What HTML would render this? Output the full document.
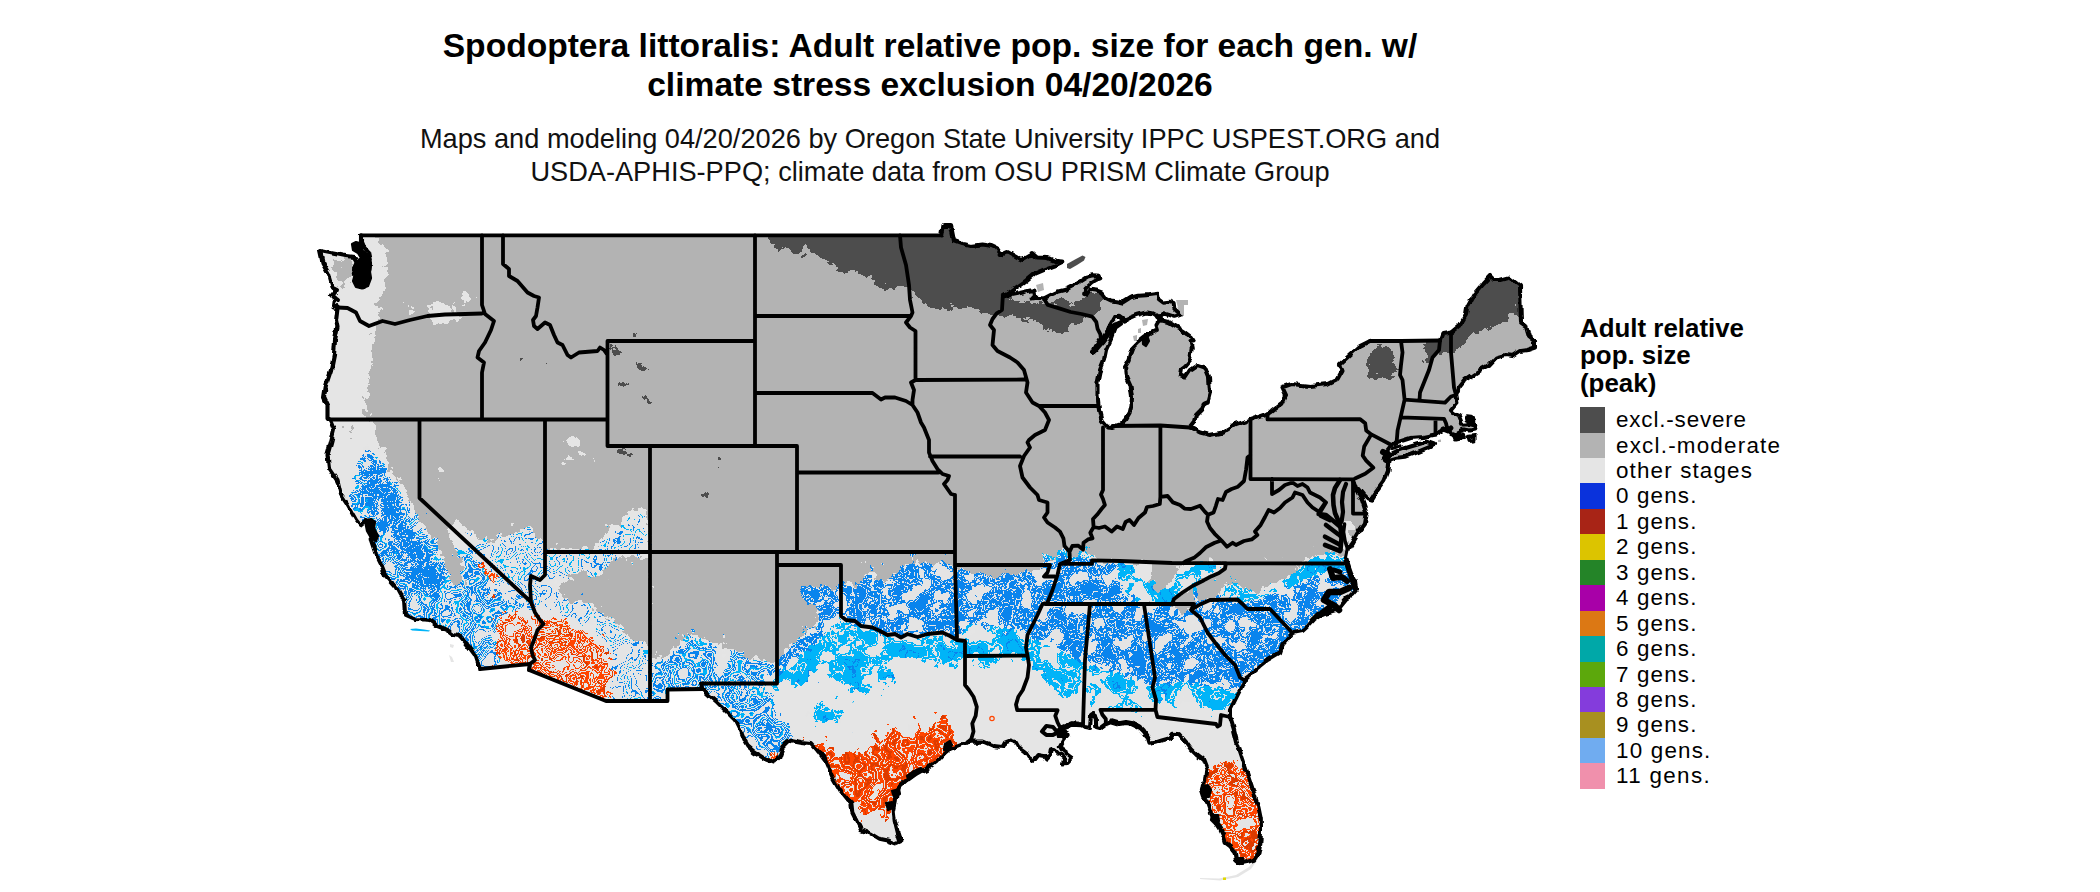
<!DOCTYPE html>
<html><head><meta charset="utf-8"><title>Spodoptera littoralis</title>
<style>
html,body{margin:0;padding:0;background:#fff}
body{width:2100px;height:892px;position:relative;overflow:hidden;font-family:"Liberation Sans",sans-serif;color:#000}
.t{position:absolute;left:0;width:1860px;text-align:center;white-space:nowrap}
.title{font-weight:bold;font-size:33.6px;line-height:39.6px;top:25.5px}
.sub{font-size:27.2px;line-height:33px;top:122px;color:#111}
.lt{position:absolute;left:1580px;top:315.2px;font-weight:bold;font-size:25.9px;line-height:27.3px;white-space:nowrap}
.sw{position:absolute;left:1580px;width:24.8px;height:25.5px}
.lb{position:absolute;left:1616px;height:25.44px;line-height:26.5px;font-size:22.4px;letter-spacing:0.95px;white-space:nowrap}
</style></head><body>
<div class="t title">Spodoptera littoralis: Adult relative pop. size for each gen. w/<br>climate stress exclusion 04/20/2026</div>
<div class="t sub">Maps and modeling 04/20/2026 by Oregon State University IPPC USPEST.ORG and<br>USDA-APHIS-PPQ; climate data from OSU PRISM Climate Group</div>
<svg width="2100" height="892" viewBox="0 0 2100 892" style="position:absolute;left:0;top:0">
<defs><filter id="rOTH" filterUnits="userSpaceOnUse" x="300" y="215" width="1270" height="677" color-interpolation-filters="sRGB"><feGaussianBlur in="SourceAlpha" stdDeviation="3.5" result="b"/>
<feMorphology in="SourceAlpha" operator="dilate" radius="5" result="dl"/>
<feMorphology in="SourceAlpha" operator="erode" radius="6" result="er"/>
<feTurbulence type="fractalNoise" baseFrequency="0.13" numOctaves="4" seed="3" result="n"/>
<feColorMatrix in="n" type="matrix" values="0 0 0 0 0 0 0 0 0 0 0 0 0 0 0 1 0 0 0 0" result="na"/>
<feComposite in="b" in2="na" operator="arithmetic" k1="0" k2="1" k3="1.5" k4="-0.75" result="s"/>
<feComponentTransfer in="s" result="M0"><feFuncA type="discrete" tableValues="0 1"/></feComponentTransfer>
<feComposite in="M0" in2="dl" operator="in" result="M1"/>
<feComposite in="er" in2="M1" operator="over" result="M"/>
<feFlood flood-color="#e5e5e5" result="c"/><feComposite in="c" in2="M" operator="in"/></filter><filter id="rMOD" filterUnits="userSpaceOnUse" x="300" y="215" width="1270" height="677" color-interpolation-filters="sRGB"><feGaussianBlur in="SourceAlpha" stdDeviation="3.5" result="b"/>
<feMorphology in="SourceAlpha" operator="dilate" radius="5" result="dl"/>
<feMorphology in="SourceAlpha" operator="erode" radius="6" result="er"/>
<feTurbulence type="fractalNoise" baseFrequency="0.13" numOctaves="4" seed="11" result="n"/>
<feColorMatrix in="n" type="matrix" values="0 0 0 0 0 0 0 0 0 0 0 0 0 0 0 1 0 0 0 0" result="na"/>
<feComposite in="b" in2="na" operator="arithmetic" k1="0" k2="1" k3="1.5" k4="-0.75" result="s"/>
<feComponentTransfer in="s" result="M0"><feFuncA type="discrete" tableValues="0 1"/></feComponentTransfer>
<feComposite in="M0" in2="dl" operator="in" result="M1"/>
<feComposite in="er" in2="M1" operator="over" result="M"/>
<feFlood flood-color="#b3b3b3" result="c"/><feComposite in="c" in2="M" operator="in"/></filter><filter id="rSEV" filterUnits="userSpaceOnUse" x="300" y="215" width="1270" height="677" color-interpolation-filters="sRGB"><feGaussianBlur in="SourceAlpha" stdDeviation="3.2" result="b"/>
<feMorphology in="SourceAlpha" operator="dilate" radius="7" result="dl"/>
<feMorphology in="SourceAlpha" operator="erode" radius="8" result="er"/>
<feTurbulence type="fractalNoise" baseFrequency="0.12" numOctaves="4" seed="21" result="n"/>
<feColorMatrix in="n" type="matrix" values="0 0 0 0 0 0 0 0 0 0 0 0 0 0 0 1 0 0 0 0" result="na"/>
<feComposite in="b" in2="na" operator="arithmetic" k1="0" k2="1" k3="1.5" k4="-0.75" result="s"/>
<feComponentTransfer in="s" result="M0"><feFuncA type="discrete" tableValues="0 1"/></feComponentTransfer>
<feComposite in="M0" in2="dl" operator="in" result="M1"/>
<feComposite in="er" in2="M1" operator="over" result="M"/>
<feFlood flood-color="#4d4d4d" result="c"/><feComposite in="c" in2="M" operator="in"/></filter><filter id="tBlue" filterUnits="userSpaceOnUse" x="300" y="215" width="1270" height="677" color-interpolation-filters="sRGB"><feGaussianBlur in="SourceAlpha" stdDeviation="5" result="b"/>
<feMorphology in="SourceAlpha" operator="dilate" radius="9" result="dl"/>
<feMorphology in="SourceAlpha" operator="erode" radius="10" result="er"/>
<feTurbulence type="fractalNoise" baseFrequency="0.1" numOctaves="4" seed="9" result="n"/>
<feColorMatrix in="n" type="matrix" values="0 0 0 0 0 0 0 0 0 0 0 0 0 0 0 1 0 0 0 0" result="na"/>
<feComposite in="b" in2="na" operator="arithmetic" k1="0" k2="1" k3="1.7" k4="-0.85" result="s"/>
<feComponentTransfer in="s" result="M0"><feFuncA type="discrete" tableValues="0 1"/></feComponentTransfer>
<feComposite in="M0" in2="dl" operator="in" result="M1"/>
<feComposite in="er" in2="M1" operator="over" result="M"/>
<feTurbulence type="fractalNoise" baseFrequency="0.06" numOctaves="4" seed="4" result="t"/>
<feColorMatrix in="t" type="matrix" values="2.000 0 0 0 -0.500 2.000 0 0 0 -0.500 2.000 0 0 0 -0.500 0 0 0 0 1"/>
<feComponentTransfer result="T"><feFuncR type="discrete" tableValues="0.898 0.898 0.898 0.898 0.898 0.039 0.039 0.898 0.039 0.039 0.039 0.898 0.039 0.039 0.039 0.039"/><feFuncG type="discrete" tableValues="0.898 0.898 0.898 0.898 0.898 0.518 0.518 0.898 0.518 0.518 0.518 0.898 0.518 0.518 0.518 0.518"/><feFuncB type="discrete" tableValues="0.898 0.898 0.898 0.898 0.898 0.933 0.933 0.898 0.933 0.933 0.933 0.898 0.933 0.933 0.933 0.933"/></feComponentTransfer>
<feComposite in="T" in2="M" operator="in"/></filter><filter id="tCyan" filterUnits="userSpaceOnUse" x="300" y="215" width="1270" height="677" color-interpolation-filters="sRGB"><feGaussianBlur in="SourceAlpha" stdDeviation="5" result="b"/>
<feMorphology in="SourceAlpha" operator="dilate" radius="9" result="dl"/>
<feMorphology in="SourceAlpha" operator="erode" radius="10" result="er"/>
<feTurbulence type="fractalNoise" baseFrequency="0.1" numOctaves="4" seed="9" result="n"/>
<feColorMatrix in="n" type="matrix" values="0 0 0 0 0 0 0 0 0 0 0 0 0 0 0 1 0 0 0 0" result="na"/>
<feComposite in="b" in2="na" operator="arithmetic" k1="0" k2="1" k3="1.7" k4="-0.85" result="s"/>
<feComponentTransfer in="s" result="M0"><feFuncA type="discrete" tableValues="0 1"/></feComponentTransfer>
<feComposite in="M0" in2="dl" operator="in" result="M1"/>
<feComposite in="er" in2="M1" operator="over" result="M"/>
<feTurbulence type="fractalNoise" baseFrequency="0.045" numOctaves="4" seed="8" result="t"/>
<feColorMatrix in="t" type="matrix" values="2.000 0 0 0 -0.500 2.000 0 0 0 -0.500 2.000 0 0 0 -0.500 0 0 0 0 1"/>
<feComponentTransfer result="T"><feFuncR type="discrete" tableValues="0.898 0.898 0.898 0.898 0.898 0.000 0.000 0.898 0.000 0.000 0.000 0.000 0.000 0.039 0.000 0.000"/><feFuncG type="discrete" tableValues="0.898 0.898 0.898 0.898 0.898 0.706 0.706 0.898 0.706 0.706 0.706 0.706 0.706 0.518 0.706 0.706"/><feFuncB type="discrete" tableValues="0.898 0.898 0.898 0.898 0.898 0.973 0.973 0.898 0.973 0.973 0.973 0.973 0.973 0.933 0.973 0.973"/></feComponentTransfer>
<feComposite in="T" in2="M" operator="in"/></filter><filter id="tLineD" filterUnits="userSpaceOnUse" x="300" y="215" width="1270" height="677" color-interpolation-filters="sRGB"><feGaussianBlur in="SourceAlpha" stdDeviation="5" result="b"/>
<feMorphology in="SourceAlpha" operator="dilate" radius="9" result="dl"/>
<feMorphology in="SourceAlpha" operator="erode" radius="10" result="er"/>
<feTurbulence type="fractalNoise" baseFrequency="0.1" numOctaves="4" seed="9" result="n"/>
<feColorMatrix in="n" type="matrix" values="0 0 0 0 0 0 0 0 0 0 0 0 0 0 0 1 0 0 0 0" result="na"/>
<feComposite in="b" in2="na" operator="arithmetic" k1="0" k2="1" k3="1.7" k4="-0.85" result="s"/>
<feComponentTransfer in="s" result="M0"><feFuncA type="discrete" tableValues="0 1"/></feComponentTransfer>
<feComposite in="M0" in2="dl" operator="in" result="M1"/>
<feComposite in="er" in2="M1" operator="over" result="M"/>
<feTurbulence type="fractalNoise" baseFrequency="0.03" numOctaves="3" seed="12" result="t"/>
<feColorMatrix in="t" type="matrix" values="2.083 0 0 0 -0.542 2.083 0 0 0 -0.542 2.083 0 0 0 -0.542 0 0 0 0 1"/>
<feComponentTransfer result="T"><feFuncR type="discrete" tableValues="0.898 0.898 0.898 0.039 0.898 0.898 0.039 0.000 0.898 0.898 0.039 0.039 0.898 0.039 0.039 0.898 0.898 0.000 0.039 0.898 0.039 0.039 0.898 0.039 0.898 0.898 0.000 0.000 0.898 0.898 0.039 0.898 0.898 0.039 0.039 0.898"/><feFuncG type="discrete" tableValues="0.898 0.898 0.898 0.518 0.898 0.898 0.518 0.706 0.898 0.898 0.518 0.518 0.898 0.518 0.518 0.898 0.898 0.706 0.518 0.898 0.518 0.518 0.898 0.518 0.898 0.898 0.706 0.706 0.898 0.898 0.518 0.898 0.898 0.518 0.518 0.898"/><feFuncB type="discrete" tableValues="0.898 0.898 0.898 0.933 0.898 0.898 0.933 0.973 0.898 0.898 0.933 0.933 0.898 0.933 0.933 0.898 0.898 0.973 0.933 0.898 0.933 0.933 0.898 0.933 0.898 0.898 0.973 0.973 0.898 0.898 0.933 0.898 0.898 0.933 0.933 0.898"/></feComponentTransfer>
<feComposite in="T" in2="M" operator="in"/></filter><filter id="tLineS" filterUnits="userSpaceOnUse" x="300" y="215" width="1270" height="677" color-interpolation-filters="sRGB"><feGaussianBlur in="SourceAlpha" stdDeviation="5" result="b"/>
<feMorphology in="SourceAlpha" operator="dilate" radius="9" result="dl"/>
<feMorphology in="SourceAlpha" operator="erode" radius="10" result="er"/>
<feTurbulence type="fractalNoise" baseFrequency="0.1" numOctaves="4" seed="9" result="n"/>
<feColorMatrix in="n" type="matrix" values="0 0 0 0 0 0 0 0 0 0 0 0 0 0 0 1 0 0 0 0" result="na"/>
<feComposite in="b" in2="na" operator="arithmetic" k1="0" k2="1" k3="1.7" k4="-0.85" result="s"/>
<feComponentTransfer in="s" result="M0"><feFuncA type="discrete" tableValues="0 1"/></feComponentTransfer>
<feComposite in="M0" in2="dl" operator="in" result="M1"/>
<feComposite in="er" in2="M1" operator="over" result="M"/>
<feTurbulence type="fractalNoise" baseFrequency="0.03" numOctaves="3" seed="13" result="t"/>
<feColorMatrix in="t" type="matrix" values="2.083 0 0 0 -0.542 2.083 0 0 0 -0.542 2.083 0 0 0 -0.542 0 0 0 0 1"/>
<feComponentTransfer result="T"><feFuncR type="discrete" tableValues="0.898 0.898 0.898 0.039 0.898 0.898 0.898 0.898 0.898 0.898 0.039 0.898 0.898 0.898 0.000 0.898 0.898 0.898 0.039 0.898 0.898 0.898 0.898 0.000 0.898 0.898 0.898 0.898 0.039 0.898 0.898 0.898 0.898 0.039 0.898 0.898"/><feFuncG type="discrete" tableValues="0.898 0.898 0.898 0.518 0.898 0.898 0.898 0.898 0.898 0.898 0.518 0.898 0.898 0.898 0.706 0.898 0.898 0.898 0.518 0.898 0.898 0.898 0.898 0.706 0.898 0.898 0.898 0.898 0.518 0.898 0.898 0.898 0.898 0.518 0.898 0.898"/><feFuncB type="discrete" tableValues="0.898 0.898 0.898 0.933 0.898 0.898 0.898 0.898 0.898 0.898 0.933 0.898 0.898 0.898 0.973 0.898 0.898 0.898 0.933 0.898 0.898 0.898 0.898 0.973 0.898 0.898 0.898 0.898 0.933 0.898 0.898 0.898 0.898 0.933 0.898 0.898"/></feComponentTransfer>
<feComposite in="T" in2="M" operator="in"/></filter><filter id="tOrange" filterUnits="userSpaceOnUse" x="300" y="215" width="1270" height="677" color-interpolation-filters="sRGB"><feGaussianBlur in="SourceAlpha" stdDeviation="5" result="b"/>
<feMorphology in="SourceAlpha" operator="dilate" radius="9" result="dl"/>
<feMorphology in="SourceAlpha" operator="erode" radius="10" result="er"/>
<feTurbulence type="fractalNoise" baseFrequency="0.1" numOctaves="4" seed="9" result="n"/>
<feColorMatrix in="n" type="matrix" values="0 0 0 0 0 0 0 0 0 0 0 0 0 0 0 1 0 0 0 0" result="na"/>
<feComposite in="b" in2="na" operator="arithmetic" k1="0" k2="1" k3="1.7" k4="-0.85" result="s"/>
<feComponentTransfer in="s" result="M0"><feFuncA type="discrete" tableValues="0 1"/></feComponentTransfer>
<feComposite in="M0" in2="dl" operator="in" result="M1"/>
<feComposite in="er" in2="M1" operator="over" result="M"/>
<feTurbulence type="fractalNoise" baseFrequency="0.038" numOctaves="3" seed="16" result="t"/>
<feColorMatrix in="t" type="matrix" values="2.083 0 0 0 -0.542 2.083 0 0 0 -0.542 2.083 0 0 0 -0.542 0 0 0 0 1"/>
<feComponentTransfer result="T"><feFuncR type="discrete" tableValues="0.898 0.898 1.000 1.000 0.898 1.000 0.863 0.863 1.000 0.898 1.000 1.000 0.863 1.000 0.898 1.000 1.000 0.863 0.863 1.000 0.898 1.000 1.000 0.898"/><feFuncG type="discrete" tableValues="0.898 0.898 0.271 0.271 0.898 0.271 0.235 0.235 0.271 0.898 0.271 0.271 0.235 0.271 0.898 0.271 0.271 0.235 0.235 0.271 0.898 0.271 0.271 0.898"/><feFuncB type="discrete" tableValues="0.898 0.898 0.000 0.000 0.898 0.000 0.000 0.000 0.000 0.898 0.000 0.000 0.000 0.000 0.898 0.000 0.000 0.000 0.000 0.000 0.898 0.000 0.000 0.898"/></feComponentTransfer>
<feComposite in="T" in2="M" operator="in"/></filter><filter id="tOrangeM" filterUnits="userSpaceOnUse" x="300" y="215" width="1270" height="677" color-interpolation-filters="sRGB"><feGaussianBlur in="SourceAlpha" stdDeviation="5" result="b"/>
<feMorphology in="SourceAlpha" operator="dilate" radius="9" result="dl"/>
<feMorphology in="SourceAlpha" operator="erode" radius="10" result="er"/>
<feTurbulence type="fractalNoise" baseFrequency="0.1" numOctaves="4" seed="9" result="n"/>
<feColorMatrix in="n" type="matrix" values="0 0 0 0 0 0 0 0 0 0 0 0 0 0 0 1 0 0 0 0" result="na"/>
<feComposite in="b" in2="na" operator="arithmetic" k1="0" k2="1" k3="1.7" k4="-0.85" result="s"/>
<feComponentTransfer in="s" result="M0"><feFuncA type="discrete" tableValues="0 1"/></feComponentTransfer>
<feComposite in="M0" in2="dl" operator="in" result="M1"/>
<feComposite in="er" in2="M1" operator="over" result="M"/>
<feTurbulence type="fractalNoise" baseFrequency="0.038" numOctaves="3" seed="18" result="t"/>
<feColorMatrix in="t" type="matrix" values="2.083 0 0 0 -0.542 2.083 0 0 0 -0.542 2.083 0 0 0 -0.542 0 0 0 0 1"/>
<feComponentTransfer result="T"><feFuncR type="discrete" tableValues="0.898 0.898 1.000 0.898 0.898 1.000 0.863 0.863 1.000 0.898 1.000 1.000 0.898 1.000 0.898 1.000 0.863 0.863 0.898 1.000 0.898 1.000 1.000 0.898"/><feFuncG type="discrete" tableValues="0.898 0.898 0.271 0.898 0.898 0.271 0.235 0.235 0.271 0.898 0.271 0.271 0.898 0.271 0.898 0.271 0.235 0.235 0.898 0.271 0.898 0.271 0.271 0.898"/><feFuncB type="discrete" tableValues="0.898 0.898 0.000 0.898 0.898 0.000 0.000 0.000 0.000 0.898 0.000 0.000 0.898 0.000 0.898 0.000 0.000 0.000 0.898 0.000 0.898 0.000 0.000 0.898"/></feComponentTransfer>
<feComposite in="T" in2="M" operator="in"/></filter><filter id="tOrangeS" filterUnits="userSpaceOnUse" x="300" y="215" width="1270" height="677" color-interpolation-filters="sRGB"><feGaussianBlur in="SourceAlpha" stdDeviation="5" result="b"/>
<feMorphology in="SourceAlpha" operator="dilate" radius="9" result="dl"/>
<feMorphology in="SourceAlpha" operator="erode" radius="10" result="er"/>
<feTurbulence type="fractalNoise" baseFrequency="0.1" numOctaves="4" seed="9" result="n"/>
<feColorMatrix in="n" type="matrix" values="0 0 0 0 0 0 0 0 0 0 0 0 0 0 0 1 0 0 0 0" result="na"/>
<feComposite in="b" in2="na" operator="arithmetic" k1="0" k2="1" k3="1.7" k4="-0.85" result="s"/>
<feComponentTransfer in="s" result="M0"><feFuncA type="discrete" tableValues="0 1"/></feComponentTransfer>
<feComposite in="M0" in2="dl" operator="in" result="M1"/>
<feComposite in="er" in2="M1" operator="over" result="M"/>
<feTurbulence type="fractalNoise" baseFrequency="0.04" numOctaves="3" seed="17" result="t"/>
<feColorMatrix in="t" type="matrix" values="2.083 0 0 0 -0.542 2.083 0 0 0 -0.542 2.083 0 0 0 -0.542 0 0 0 0 1"/>
<feComponentTransfer result="T"><feFuncR type="discrete" tableValues="0.898 0.898 1.000 0.898 0.898 1.000 0.863 0.898 1.000 0.898 1.000 1.000 0.898 1.000 0.898 1.000 0.863 0.898 0.898 1.000 0.898 0.898 1.000 0.898"/><feFuncG type="discrete" tableValues="0.898 0.898 0.271 0.898 0.898 0.271 0.235 0.898 0.271 0.898 0.271 0.271 0.898 0.271 0.898 0.271 0.235 0.898 0.898 0.271 0.898 0.898 0.271 0.898"/><feFuncB type="discrete" tableValues="0.898 0.898 0.000 0.898 0.898 0.000 0.000 0.898 0.000 0.898 0.000 0.000 0.898 0.000 0.898 0.000 0.000 0.898 0.898 0.000 0.898 0.898 0.000 0.898"/></feComponentTransfer>
<feComposite in="T" in2="M" operator="in"/></filter><filter id="tSolid" filterUnits="userSpaceOnUse" x="300" y="215" width="1270" height="677" color-interpolation-filters="sRGB"><feGaussianBlur in="SourceAlpha" stdDeviation="4" result="b"/>
<feMorphology in="SourceAlpha" operator="dilate" radius="8" result="dl"/>
<feMorphology in="SourceAlpha" operator="erode" radius="9" result="er"/>
<feTurbulence type="fractalNoise" baseFrequency="0.1" numOctaves="4" seed="9" result="n"/>
<feColorMatrix in="n" type="matrix" values="0 0 0 0 0 0 0 0 0 0 0 0 0 0 0 1 0 0 0 0" result="na"/>
<feComposite in="b" in2="na" operator="arithmetic" k1="0" k2="1" k3="1.6" k4="-0.8" result="s"/>
<feComponentTransfer in="s" result="M0"><feFuncA type="discrete" tableValues="0 1"/></feComponentTransfer>
<feComposite in="M0" in2="dl" operator="in" result="M1"/>
<feComposite in="er" in2="M1" operator="over" result="M"/>
<feTurbulence type="fractalNoise" baseFrequency="0.07" numOctaves="4" seed="20" result="t"/>
<feColorMatrix in="t" type="matrix" values="2.000 0 0 0 -0.500 2.000 0 0 0 -0.500 2.000 0 0 0 -0.500 0 0 0 0 1"/>
<feComponentTransfer result="T"><feFuncR type="discrete" tableValues="0.898 0.039 0.898 0.039 0.039 0.898 0.039 0.039 0.039 0.039 0.039 0.898 0.039 0.039 0.039 0.039"/><feFuncG type="discrete" tableValues="0.898 0.518 0.898 0.518 0.518 0.898 0.518 0.518 0.518 0.518 0.518 0.898 0.518 0.518 0.518 0.518"/><feFuncB type="discrete" tableValues="0.898 0.933 0.898 0.933 0.933 0.898 0.933 0.933 0.933 0.933 0.933 0.898 0.933 0.933 0.933 0.933"/></feComponentTransfer>
<feComposite in="T" in2="M" operator="in"/></filter></defs>
<clipPath id="land"><path d="M361 235.4 L941 235.4 L942.5 226 L951 226 L954 241 L962.5 244 L971 246 L982.5 244.5 L992.5 246 L996.7 248 L1001.4 254.8 L1007.5 252 L1017 257.5 L1022.3 260 L1033 254 L1037 257.5 L1047.8 258 L1054.6 260.9 L1063.3 261.5 L1054.6 265.6 L1043.8 269.6 L1034.4 273.6 L1026.3 280.4 L1017 287 L1007.5 293.8 L1002.8 296.5 L1010 295 L1019.6 293 L1030.4 290.5 L1034.4 290.5 L1035 295 L1031.7 298.5 L1037 297.8 L1043.8 298.5 L1050.5 295 L1057.3 291.8 L1065.3 289.8 L1073.4 285.7 L1081.5 280.4 L1086.9 277 L1093.6 275.2 L1099.6 275.7 L1100.3 278.3 L1096.3 279.7 L1090.9 283 L1085.5 287.8 L1084.2 293 L1086.9 293.8 L1089.6 289.8 L1096.3 290.5 L1101.7 292.5 L1105.7 297.8 L1111 300.5 L1116.5 301.2 L1122.5 302.6 L1130 297.8 L1138 295.8 L1148.8 295 L1158 293.8 L1158.8 299 L1163.5 302.6 L1170.3 301.9 L1173.6 303 L1174.3 308.6 L1178.4 312.6 L1180.4 314.7 L1174.3 316.7 L1163.5 313.3 L1159.5 317 L1152.8 313.3 L1146 312.6 L1138 314.7 L1130 318 L1124.5 320.7 L1119 316.7 L1114.4 317.4 L1111 323.4 L1107 331.5 L1103 338.2 L1101 338.2 L1096 346 L1092.5 353 L1096 350 L1102 343 L1108 335 L1115 329 L1112 337 L1106 350 L1104 360 L1100 370 L1097.5 382.5 L1097.5 395 L1099 410 L1101.5 421 L1107 427.5 L1113 428 L1120 425.5 L1126 420 L1129.5 414 L1131.5 405 L1132 397 L1130.5 386 L1126 376 L1125 366 L1128.6 360 L1130 354.4 L1132.6 347.6 L1138 342.2 L1144.7 336.9 L1151.4 332.8 L1156.8 330 L1155.5 326 L1159.5 319.4 L1169 322 L1178.4 327.4 L1186.4 332.8 L1191.8 336.9 L1193.8 340.2 L1190.5 340.9 L1191.8 347.6 L1190 360 L1185 366 L1181 369 L1180 375 L1185 377.5 L1190 370 L1197.5 365 L1205 367.5 L1209 377.5 L1210 392.5 L1207.5 402.5 L1204 404 L1201 410 L1196 415 L1194 422.5 L1190 427.5 L1200 432.5 L1210 435 L1222.5 432.5 L1235 425 L1250 420 L1267.5 414 L1282.5 402.5 L1286 395 L1282.5 387.5 L1292.5 384 L1310 386 L1327.5 384 L1337.5 379 L1342.5 370 L1340 364 L1350 355 L1360 346 L1370 341 L1401 341 L1440 340.5 L1442.5 334 L1451 332.5 L1460 325 L1466 315 L1467.5 306 L1474 294 L1482.5 284 L1490 276 L1494 280 L1500 280 L1509 277.5 L1520 286 L1521 322.5 L1526 326 L1529 336 L1535 341 L1535 347.5 L1527.5 350 L1520 351 L1512.5 356 L1505 355 L1496 357.5 L1489 365 L1480 370 L1474 374 L1465 380 L1459 387.5 L1456 395 L1457.5 402.5 L1451 410.2 L1454 413.2 L1459 415.2 L1461 420.3 L1462 424.8 L1470.2 424.3 L1474.2 425.3 L1474.2 421.3 L1471.2 417.7 L1467 417.2 L1467.5 419.5 L1471 421 L1472 423.5 L1475.2 425.3 L1474.2 429.4 L1470 430.4 L1465 429.4 L1461 430.4 L1457 432.4 L1454 434.4 L1450 433 L1447 427.4 L1442 430.4 L1435 434.4 L1422.8 437 L1410.7 438 L1396.6 442.5 L1391.5 445 L1386 452 L1383 458 L1389.5 460.7 L1388.4 470.8 L1384.4 481 L1376 492.4 L1371 500.6 L1367.7 499.5 L1363 494.7 L1357 487.7 L1353.6 480.6 L1357 490 L1362 500 L1366.5 513.6 L1365 523 L1358 532.4 L1352.4 541.8 L1347.7 549 L1346 557 L1347.7 563 L1351 572.4 L1356 582 L1357 589 L1351 596 L1346.5 598.3 L1340.6 605.4 L1334.7 610 L1323 613.6 L1313.5 620 L1308 626 L1302.5 631 L1292.5 633 L1282.5 645 L1280 652.5 L1267.5 660 L1255 670 L1247.5 677.5 L1244 680 L1240 690 L1235 700 L1230 710 L1230 717 L1233.6 728.5 L1237 742 L1241.5 755.7 L1246 769 L1250.6 783 L1255 796.4 L1258.5 807.7 L1260.8 819 L1261 830.4 L1260.3 844 L1258.5 853 L1254 859.8 L1247 862 L1240.4 863.2 L1235.8 858.7 L1234.7 851.9 L1230 846 L1225.7 842.8 L1223.4 835 L1220 828 L1215.5 821.3 L1211 813.4 L1207.5 803 L1204 796.4 L1201.9 789.6 L1205 780.6 L1206.4 769 L1203 760 L1197.4 755.7 L1190.6 749 L1185 741 L1179 734 L1173 733.7 L1169.7 738.2 L1161.8 740.5 L1155 742.7 L1149.5 743.8 L1147.3 737 L1143.9 731.5 L1139.4 727 L1132.7 723.6 L1126 722.5 L1119 723.6 L1111.4 721.4 L1105.8 723.6 L1100 728 L1096.2 727 L1095.7 718 L1093.4 714 L1091 715.8 L1090 728 L1084.5 727 L1081 724.8 L1072 724.2 L1064.3 727 L1061 732.6 L1061 734.9 L1066.5 732 L1067.6 734.9 L1063 740.5 L1059.8 746 L1063 751.7 L1067.6 755 L1072 758.4 L1067.6 762.9 L1063 763.4 L1064.3 758.4 L1058.7 754 L1055.3 750.5 L1050.8 749.4 L1049.7 756 L1046.3 759.5 L1044 756 L1038.5 755 L1034 760.6 L1029.5 757.3 L1026 751.7 L1019.4 747 L1017 742.7 L1010.5 740.5 L1004.9 742.7 L1002.6 747 L993.6 746 L983.5 741.6 L972 741.5 L965 743 L957.3 746 L949.6 749 L944 753.7 L936 762.4 L926.5 769 L915 774 L907 779.8 L899.5 786.5 L896.6 793 L895.7 801 L893.7 810.6 L894.7 820 L897.6 831.8 L900.5 841.4 L895.7 843.4 L888 840.5 L878.3 838.6 L870.6 833.7 L861 830 L856 820 L852.3 812.5 L851.3 803 L847.5 799 L839.8 789.4 L832 776 L826.3 762.4 L818.6 751.8 L810.8 743 L801 742 L791.6 740.2 L787.5 742.5 L782.5 747.5 L779 757.5 L774 762.5 L765 759 L755 752.5 L747.5 746 L744 740 L740 730 L735 720 L727.5 712.5 L717.5 702.5 L709 695 L702.5 689 L667.5 689.5 L667.5 701 L650 701 L606 701 L529 670 L530 664 L480 669 L477.5 662.5 L475 655 L467.5 645 L460 636 L454 635 L447.5 630 L437.5 626 L430 620 L415 619 L406 615 L405 600 L400 595 L396 587.5 L385 575 L381 565 L376 555 L371 540 L369 529 L372 522 L366 520 L360 525 L356 520 L347.5 505 L341 495 L337.5 480 L329 467.5 L327.5 455 L331 442.5 L334 430 L330 420 L327.5 417.5 L327.5 405 L324 397.5 L326 385 L331 370 L334 355 L335 340 L337.5 327.5 L336 320 L337.5 307.5 L334 306 L335 299 L332 296 L335 292.5 L332.5 286 L329 274 L322.5 262.5 L320 251 L330 253 L342 255.5 L354 257 L357 262 L355 270 L357 280 L360 287 L364 286 L366 278 L369 272 L370 262 L368 252 L363 246 L361 241ZM1383.4 458.7 L1392.5 452.6 L1400.6 449.6 L1410.7 446.5 L1420.8 443.5 L1425.8 441.5 L1434 444.5 L1431 446.5 L1420.8 450.6 L1410.7 454.6 L1404.6 456.7 L1396.6 457.7 L1388.5 460.2Z"/></clipPath>
<path d="M361 235.4 L941 235.4 L942.5 226 L951 226 L954 241 L962.5 244 L971 246 L982.5 244.5 L992.5 246 L996.7 248 L1001.4 254.8 L1007.5 252 L1017 257.5 L1022.3 260 L1033 254 L1037 257.5 L1047.8 258 L1054.6 260.9 L1063.3 261.5 L1054.6 265.6 L1043.8 269.6 L1034.4 273.6 L1026.3 280.4 L1017 287 L1007.5 293.8 L1002.8 296.5 L1010 295 L1019.6 293 L1030.4 290.5 L1034.4 290.5 L1035 295 L1031.7 298.5 L1037 297.8 L1043.8 298.5 L1050.5 295 L1057.3 291.8 L1065.3 289.8 L1073.4 285.7 L1081.5 280.4 L1086.9 277 L1093.6 275.2 L1099.6 275.7 L1100.3 278.3 L1096.3 279.7 L1090.9 283 L1085.5 287.8 L1084.2 293 L1086.9 293.8 L1089.6 289.8 L1096.3 290.5 L1101.7 292.5 L1105.7 297.8 L1111 300.5 L1116.5 301.2 L1122.5 302.6 L1130 297.8 L1138 295.8 L1148.8 295 L1158 293.8 L1158.8 299 L1163.5 302.6 L1170.3 301.9 L1173.6 303 L1174.3 308.6 L1178.4 312.6 L1180.4 314.7 L1174.3 316.7 L1163.5 313.3 L1159.5 317 L1152.8 313.3 L1146 312.6 L1138 314.7 L1130 318 L1124.5 320.7 L1119 316.7 L1114.4 317.4 L1111 323.4 L1107 331.5 L1103 338.2 L1101 338.2 L1096 346 L1092.5 353 L1096 350 L1102 343 L1108 335 L1115 329 L1112 337 L1106 350 L1104 360 L1100 370 L1097.5 382.5 L1097.5 395 L1099 410 L1101.5 421 L1107 427.5 L1113 428 L1120 425.5 L1126 420 L1129.5 414 L1131.5 405 L1132 397 L1130.5 386 L1126 376 L1125 366 L1128.6 360 L1130 354.4 L1132.6 347.6 L1138 342.2 L1144.7 336.9 L1151.4 332.8 L1156.8 330 L1155.5 326 L1159.5 319.4 L1169 322 L1178.4 327.4 L1186.4 332.8 L1191.8 336.9 L1193.8 340.2 L1190.5 340.9 L1191.8 347.6 L1190 360 L1185 366 L1181 369 L1180 375 L1185 377.5 L1190 370 L1197.5 365 L1205 367.5 L1209 377.5 L1210 392.5 L1207.5 402.5 L1204 404 L1201 410 L1196 415 L1194 422.5 L1190 427.5 L1200 432.5 L1210 435 L1222.5 432.5 L1235 425 L1250 420 L1267.5 414 L1282.5 402.5 L1286 395 L1282.5 387.5 L1292.5 384 L1310 386 L1327.5 384 L1337.5 379 L1342.5 370 L1340 364 L1350 355 L1360 346 L1370 341 L1401 341 L1440 340.5 L1442.5 334 L1451 332.5 L1460 325 L1466 315 L1467.5 306 L1474 294 L1482.5 284 L1490 276 L1494 280 L1500 280 L1509 277.5 L1520 286 L1521 322.5 L1526 326 L1529 336 L1535 341 L1535 347.5 L1527.5 350 L1520 351 L1512.5 356 L1505 355 L1496 357.5 L1489 365 L1480 370 L1474 374 L1465 380 L1459 387.5 L1456 395 L1457.5 402.5 L1451 410.2 L1454 413.2 L1459 415.2 L1461 420.3 L1462 424.8 L1470.2 424.3 L1474.2 425.3 L1474.2 421.3 L1471.2 417.7 L1467 417.2 L1467.5 419.5 L1471 421 L1472 423.5 L1475.2 425.3 L1474.2 429.4 L1470 430.4 L1465 429.4 L1461 430.4 L1457 432.4 L1454 434.4 L1450 433 L1447 427.4 L1442 430.4 L1435 434.4 L1422.8 437 L1410.7 438 L1396.6 442.5 L1391.5 445 L1386 452 L1383 458 L1389.5 460.7 L1388.4 470.8 L1384.4 481 L1376 492.4 L1371 500.6 L1367.7 499.5 L1363 494.7 L1357 487.7 L1353.6 480.6 L1357 490 L1362 500 L1366.5 513.6 L1365 523 L1358 532.4 L1352.4 541.8 L1347.7 549 L1346 557 L1347.7 563 L1351 572.4 L1356 582 L1357 589 L1351 596 L1346.5 598.3 L1340.6 605.4 L1334.7 610 L1323 613.6 L1313.5 620 L1308 626 L1302.5 631 L1292.5 633 L1282.5 645 L1280 652.5 L1267.5 660 L1255 670 L1247.5 677.5 L1244 680 L1240 690 L1235 700 L1230 710 L1230 717 L1233.6 728.5 L1237 742 L1241.5 755.7 L1246 769 L1250.6 783 L1255 796.4 L1258.5 807.7 L1260.8 819 L1261 830.4 L1260.3 844 L1258.5 853 L1254 859.8 L1247 862 L1240.4 863.2 L1235.8 858.7 L1234.7 851.9 L1230 846 L1225.7 842.8 L1223.4 835 L1220 828 L1215.5 821.3 L1211 813.4 L1207.5 803 L1204 796.4 L1201.9 789.6 L1205 780.6 L1206.4 769 L1203 760 L1197.4 755.7 L1190.6 749 L1185 741 L1179 734 L1173 733.7 L1169.7 738.2 L1161.8 740.5 L1155 742.7 L1149.5 743.8 L1147.3 737 L1143.9 731.5 L1139.4 727 L1132.7 723.6 L1126 722.5 L1119 723.6 L1111.4 721.4 L1105.8 723.6 L1100 728 L1096.2 727 L1095.7 718 L1093.4 714 L1091 715.8 L1090 728 L1084.5 727 L1081 724.8 L1072 724.2 L1064.3 727 L1061 732.6 L1061 734.9 L1066.5 732 L1067.6 734.9 L1063 740.5 L1059.8 746 L1063 751.7 L1067.6 755 L1072 758.4 L1067.6 762.9 L1063 763.4 L1064.3 758.4 L1058.7 754 L1055.3 750.5 L1050.8 749.4 L1049.7 756 L1046.3 759.5 L1044 756 L1038.5 755 L1034 760.6 L1029.5 757.3 L1026 751.7 L1019.4 747 L1017 742.7 L1010.5 740.5 L1004.9 742.7 L1002.6 747 L993.6 746 L983.5 741.6 L972 741.5 L965 743 L957.3 746 L949.6 749 L944 753.7 L936 762.4 L926.5 769 L915 774 L907 779.8 L899.5 786.5 L896.6 793 L895.7 801 L893.7 810.6 L894.7 820 L897.6 831.8 L900.5 841.4 L895.7 843.4 L888 840.5 L878.3 838.6 L870.6 833.7 L861 830 L856 820 L852.3 812.5 L851.3 803 L847.5 799 L839.8 789.4 L832 776 L826.3 762.4 L818.6 751.8 L810.8 743 L801 742 L791.6 740.2 L787.5 742.5 L782.5 747.5 L779 757.5 L774 762.5 L765 759 L755 752.5 L747.5 746 L744 740 L740 730 L735 720 L727.5 712.5 L717.5 702.5 L709 695 L702.5 689 L667.5 689.5 L667.5 701 L650 701 L606 701 L529 670 L530 664 L480 669 L477.5 662.5 L475 655 L467.5 645 L460 636 L454 635 L447.5 630 L437.5 626 L430 620 L415 619 L406 615 L405 600 L400 595 L396 587.5 L385 575 L381 565 L376 555 L371 540 L369 529 L372 522 L366 520 L360 525 L356 520 L347.5 505 L341 495 L337.5 480 L329 467.5 L327.5 455 L331 442.5 L334 430 L330 420 L327.5 417.5 L327.5 405 L324 397.5 L326 385 L331 370 L334 355 L335 340 L337.5 327.5 L336 320 L337.5 307.5 L334 306 L335 299 L332 296 L335 292.5 L332.5 286 L329 274 L322.5 262.5 L320 251 L330 253 L342 255.5 L354 257 L357 262 L355 270 L357 280 L360 287 L364 286 L366 278 L369 272 L370 262 L368 252 L363 246 L361 241ZM1383.4 458.7 L1392.5 452.6 L1400.6 449.6 L1410.7 446.5 L1420.8 443.5 L1425.8 441.5 L1434 444.5 L1431 446.5 L1420.8 450.6 L1410.7 454.6 L1404.6 456.7 L1396.6 457.7 L1388.5 460.2Z" fill="#b3b3b3"/>
<g clip-path="url(#land)">
<g filter="url(#rOTH)"><path d="M300 419.5 L372 420 L375 435 L383 447 L390 467 L402 482 L412 505 L422 527 L435 542 L445 572 L456 590 L466 582 L463 560 L452 543 L449 528 L460 520 L472.5 535 L485 542.5 L495 540 L507.5 535 L522.5 530 L530 525 L535 537.5 L545 545 L545 551 L597 551 L597.5 545 L605 535 L617.5 525 L627.5 515 L640 507.5 L645 505 L647 520 L649.5 551 L649.5 652 L655 662 L670 655 L683 640 L692.5 630 L702.5 642 L715 640 L722.5 652 L730 645 L740 655 L747.5 662 L760 660 L770 665 L777 662 L790 645 L802.5 635 L815 625 L820 612.5 L832.5 610 L841 602.5 L841 590 L845 582 L860 590 L867 570 L875 570 L877 585 L890 580 L900 570 L910 565 L920 560 L930 570 L940 562 L950 565 L955 566 L962 572 L985 575 L1010 574 L1035 573 L1045 567 L1050 560 L1060 555 L1075 560 L1090 552 L1092 562 L1226 562.5 L1305 563 L1310 557.5 L1330 555 L1345 556 L1350 558 L1420 558 L1420 900 L300 900ZM361 230 L380 238 L390 262 L386 285 L380 298 L376 312 L382 322 L374 330 L370 345 L373 360 L369 380 L366 400 L367 419.5 L372 425 L300 425 L300 230ZM426 308 L436 303 L448 304 L458 308 L460 316 L452 320 L446 328 L438 326 L430 318ZM406 307 L416 306 L417 313 L408 314ZM460 295 L468 292 L476 296 L474 303 L464 304ZM456 284 L460 284 L460 290 L456 290ZM567 436 L574 434 L580 440 L578 448 L572 450 L568 445ZM566 455 L570 452 L572 462 L567 466ZM580 452 L588 450 L590 458 L583 460ZM432 468 L440 466 L442 474 L435 476ZM1340 520 L1352 520 L1352 550 L1340 550Z" fill="#000"/></g>
<g filter="url(#rMOD)"><path d="M557.5 592.5 L562 580 L570 573 L587.5 571 L600 578 L607.5 562 L620 556 L652 556 L652 645 L640 645 L625 635 L615 622.5 L600 615 L590 602.5 L575 605 L562.5 600ZM1152 558 L1182 558 L1178 570 L1167 585 L1157 597 L1148 603 L1143 598 L1148 585 L1150 572ZM1228 558 L1226 567 L1217 571 L1210 576 L1202 581 L1192 586 L1182 592 L1174 599 L1172 606 L1180 614 L1190 612 L1197 606 L1203 600 L1215 597 L1225 590 L1232 582 L1245 590 L1260 592 L1275 582 L1285 580 L1295 570 L1305 565 L1305 558ZM336 260 L346 258 L353 264 L352 276 L346 285 L338 282 L334 270ZM972 566 L1015 566 L1022 574 L1012 584 L998 580 L988 586 L977 579ZM345 430 L352 428 L356 436 L350 440Z" fill="#000"/></g>
<g filter="url(#rSEV)"><path d="M770 225 L770 242.5 L775 249 L785 247.5 L795 254 L804 255 L805 245 L815 251 L822.5 259 L832.5 264 L839 271 L860 271 L870 279 L880 290 L890 287.5 L906 285.5 L912.5 290 L917.5 300 L925 305 L935 310 L950 309 L960 307.5 L975 309 L990 314 L1003 316 L1003 300 L1070 262 L1070 215 L770 215ZM1002.8 299 L1010 300 L1023.6 300.5 L1029 304.6 L1037 303 L1043.8 300.5 L1047.8 305 L1060 308.6 L1070.7 312 L1081.5 314 L1091 316.7 L1089.6 319.4 L1082.8 320.7 L1078.8 326 L1073.4 322 L1070.7 327.4 L1065.3 332.8 L1054.6 332.8 L1046.5 328.8 L1041 323.4 L1033 320.7 L1029 315.3 L1025 316.7 L1022.3 320.7 L1018.3 318 L1015.6 315.3 L1010 316 L1004.8 318 L1002.8 312.6ZM1053 299 L1061.3 297.8 L1068 302 L1076 303 L1084.2 296.5 L1089.6 292.5 L1096.3 291.8 L1101.7 296.5 L1102.3 304.6 L1100.3 310 L1096.3 314 L1092.2 316 L1081.5 313.7 L1070.7 311.3 L1060 308 L1049.2 304.6ZM1372 350 L1380 346 L1390 347 L1394 355 L1392 365 L1396 370 L1390 378 L1382 376 L1375 382 L1368 378 L1366 368 L1370 360ZM1352 375 L1356 375 L1356 379 L1352 379ZM1422 338 L1455 330 L1455 352 L1447 350 L1440 356 L1432 358 L1428 362 L1424 355 L1425 348ZM1449 330 L1460 320 L1466 310 L1467.5 300 L1474 290 L1482.5 280 L1490 270 L1525 270 L1525 322.5 L1517.5 315 L1515 305 L1510 307.5 L1510 315 L1507.5 320 L1497.5 322.5 L1492.5 330 L1485 327.5 L1475 332.5 L1467.5 340 L1460 347.5 L1449 352.5ZM614 347 L620 346 L621 352 L617 357 L613 354ZM632 360 L637 358 L645 368 L644 375 L638 372ZM622 380 L627 379 L631 388 L627 391 L623 386ZM642 392 L647 393 L650 402 L645 404ZM630 332 L640 333 L639 337 L631 336ZM702 490 L706 488 L707 498 L703 500ZM614 450 L624 449 L634 452 L633 456 L622 455 L615 454ZM715 458 L719 457 L722 466 L718 469ZM522 358 L526 357 L527 362 L523 363ZM545 370 L549 369 L550 374 L546 375Z" fill="#000"/></g>
<g filter="url(#tLineS)"><path d="M465 540 L485 542 L507 535 L522 530 L530 525 L535 537 L545 545 L545 551 L600 551 L605 540 L640 510 L645 520 L649 551 L649 556 L620 556 L607 562 L600 578 L587 571 L570 573 L562 580 L557 592 L562 600 L575 605 L590 602 L600 615 L615 622 L625 635 L640 645 L649 645 L649 720 L600 720 L612 655 L605 640 L590 628 L575 622 L560 612 L545 608 L531 602 L505 600 L490 580 L478 560Z" fill="#000"/></g>
<g filter="url(#tLineD)"><path d="M362 450 L368 444 L375 452 L385 470 L400 490 L410 510 L422 527 L435 542 L445 572 L456 590 L466 582 L463 560 L457 548 L465 540 L478 560 L490 580 L505 600 L531 602 L535 612 L520 612 L500 615 L497 640 L505 668 L480 672 L440 640 L400 610 L372 570 L366 545 L368 525 L358 515 L350 505 L356 485 L359 465ZM649 652 L655 662 L670 655 L683 640 L692 630 L702 642 L715 640 L722 652 L730 645 L740 655 L747 662 L760 660 L770 665 L777 662 L790 645 L815 625 L825 632 L800 655 L785 665 L775 690 L772 705 L782 718 L792 728 L790 742 L780 760 L765 764 L745 750 L700 720 L649 720Z" fill="#000"/></g>
<g filter="url(#tCyan)"><path d="M815 625 L820 612 L832 610 L841 605 L841 616 L846 620 L861 626 L880 631 L895 634 L907 634 L925 634 L944 632 L957 640 L965 641 L965 660 L950 665 L930 660 L905 655 L890 660 L885 680 L870 682 L850 668 L835 660 L820 665 L808 675 L800 690 L790 680 L780 685 L770 700 L762 690 L772 672 L790 660 L805 645ZM965 622 L1000 625 L1027 632 L1040 640 L1060 650 L1085 660 L1100 668 L1120 672 L1140 680 L1160 683 L1190 680 L1215 685 L1235 690 L1250 690 L1240 714 L1222 713 L1210 708 L1197 705 L1185 703 L1172 705 L1157 704 L1155 704 L1140 712 L1125 708 L1110 707 L1095 702 L1085 685 L1082 685 L1067 695 L1055 695 L1042 677 L1027 656 L1000 660 L985 668 L975 656 L965 656ZM1215 597 L1225 590 L1232 582 L1245 590 L1260 592 L1275 582 L1285 580 L1295 570 L1305 565 L1310 557 L1330 555 L1345 556 L1360 575 L1340 570 L1320 575 L1305 580 L1290 590 L1275 592 L1260 600 L1245 605 L1230 600ZM1115 563 L1128 563 L1135 575 L1150 585 L1158 597 L1165 604 L1150 604 L1135 604 L1125 595 L1118 580ZM1150 603 L1158 597 L1170 585 L1185 572 L1200 566 L1215 565 L1222 567 L1210 576 L1195 585 L1182 592 L1174 599 L1172 604 L1160 606ZM810 707 L825 705 L845 712 L843 724 L828 722 L812 720ZM825 655 L850 650 L880 655 L892 670 L882 690 L860 693 L840 686 L828 672ZM1045 555 L1060 550 L1075 555 L1090 548 L1094 562 L1060 566 L1050 566Z" fill="#000"/></g>
<g filter="url(#tBlue)"><path d="M841 590 L845 582 L860 590 L867 570 L875 570 L877 585 L890 580 L900 570 L910 565 L920 560 L930 570 L940 562 L950 565 L955 566 L962 572 L985 575 L1010 574 L1035 573 L1045 567 L1050 560 L1060 555 L1075 560 L1090 552 L1092 562 L1115 563 L1118 580 L1125 595 L1135 604 L1165 604 L1172 612 L1185 615 L1195 608 L1200 600 L1215 597 L1230 600 L1245 605 L1260 600 L1275 592 L1290 590 L1305 580 L1320 575 L1340 570 L1352 575 L1370 590 L1300 645 L1250 690 L1235 690 L1215 685 L1190 680 L1160 683 L1140 680 L1120 672 L1100 668 L1085 660 L1060 650 L1040 640 L1027 632 L1000 625 L965 622 L957 638 L944 632 L925 634 L907 634 L895 634 L880 631 L861 626 L846 620 L841 616ZM777 662 L790 647 L803 637 L816 627 L821 614 L833 612 L841 604 L841 616 L836 624 L826 634 L815 645 L803 655 L790 665 L780 675 L777 680ZM800 583 L812 580 L818 590 L826 588 L838 582 L841 590 L841 603 L832 610 L820 612 L812 604 L802 598Z" fill="#000"/></g>
<g filter="url(#tSolid)"><path d="M366 462 L378 462 L388 477 L398 502 L413 535 L432 558 L444 580 L436 598 L420 590 L403 570 L388 545 L374 520 L365 495Z" fill="#000"/></g>
<g filter="url(#tOrange)"><path d="M808 738 L821 745 L838 753 L857 753 L872 745 L884 737 L888 726 L896 731 L905 735 L915 722 L925 732 L935 722 L947 717 L955 725 L955 750 L930 775 L900 795 L895 810 L888 822 L880 810 L873 806 L868 815 L862 818 L856 800 L845 805 L835 789 L826 776 L820 762 L812 752Z" fill="#000"/></g>
<g filter="url(#tOrangeS)"><path d="M500 617 L515 612 L530 614 L540 618 L552 618 L565 622 L580 632 L595 642 L608 655 L614 672 L612 690 L600 700 L570 690 L520 672 L505 668 L497 650 L496 630ZM477 560 L482 559 L500 588 L495 592ZM745 745 L752 748 L762 756 L772 760 L776 756 L780 760 L772 766 L760 762 L748 754Z" fill="#000"/></g>
<g filter="url(#tOrangeM)"><path d="M1208 769 L1217 760 L1231 765 L1241 765 L1252 774 L1260 796 L1266 819 L1266 845 L1258 865 L1236 865 L1222 843 L1211 821 L1203 803 L1198 790 L1201 780Z" fill="#000"/></g>
</g>
<path d="M1067 264 L1075 259.5 L1082.5 255.5 L1085.5 257 L1084 260.5 L1077 265 L1070 269 L1067 268Z" fill="#4d4d4d"/><path d="M1176 300 L1188 300 L1188 305 L1184 305 L1184 316 L1178 316 L1178 308Z" fill="#b3b3b3"/><path d="M1142 320 L1148 319 L1147 325 L1143 326Z" fill="#b3b3b3"/><path d="M1133 336 L1137 335 L1137 341 L1134 341Z" fill="#b3b3b3"/><path d="M1138 329 L1141 328 L1141 333 L1138 333Z" fill="#b3b3b3"/><path d="M1036 285 L1043 283 L1044 290 L1038 292Z" fill="#b3b3b3"/><path d="M1112 321 L1117 319 L1114 325Z" fill="#b3b3b3"/><path d="M1256 858 L1258 859 L1251 869 L1238 877 L1220 880.5 L1200 879 L1200 878 L1219 878.5 L1236 875 L1249 867Z" fill="#e5e5e5"/><path d="M410 629 L416 628.5 L424 629.5 L430 630.5 L429 631.5 L420 631 L412 630.5Z" fill="#00b4f8"/><path d="M450 644 L454 645 L453 648 L450 647Z" fill="#e5e5e5"/><path d="M449 655 L452 657 L454 662 L451 662Z" fill="#e5e5e5"/><path d="M1438 440 L1441 439.5 L1441 442 L1438 442Z" fill="#b3b3b3"/><rect x="1223" y="877.5" width="3" height="2.5" fill="#e0d800"/><circle cx="992" cy="718.5" r="2.2" fill="none" stroke="#ff4500" stroke-width="1.2"/>
<filter id="wob" filterUnits="userSpaceOnUse" x="300" y="215" width="1270" height="677"><feTurbulence type="fractalNoise" baseFrequency="0.1" numOctaves="2" seed="31"/><feDisplacementMap in="SourceGraphic" scale="5.5" xChannelSelector="R" yChannelSelector="G"/></filter>
<g fill="none" stroke="#000" stroke-width="3.8" stroke-linejoin="round" stroke-linecap="round">
<g filter="url(#wob)"><path d="M941 235.4 L942.5 226 L951 226 L954 241 L962.5 244 L971 246 L982.5 244.5 L992.5 246 L996.7 248 L1001.4 254.8 L1007.5 252 L1017 257.5 L1022.3 260 L1033 254 L1037 257.5 L1047.8 258 L1054.6 260.9 L1063.3 261.5 L1054.6 265.6 L1043.8 269.6 L1034.4 273.6 L1026.3 280.4 L1017 287 L1007.5 293.8 L1002.8 296.5 L1010 295 L1019.6 293 L1030.4 290.5 L1034.4 290.5 L1035 295 L1031.7 298.5 L1037 297.8 L1043.8 298.5 L1050.5 295 L1057.3 291.8 L1065.3 289.8 L1073.4 285.7 L1081.5 280.4 L1086.9 277 L1093.6 275.2 L1099.6 275.7 L1100.3 278.3 L1096.3 279.7 L1090.9 283 L1085.5 287.8 L1084.2 293 L1086.9 293.8 L1089.6 289.8 L1096.3 290.5 L1101.7 292.5 L1105.7 297.8 L1111 300.5 L1116.5 301.2 L1122.5 302.6 L1130 297.8 L1138 295.8 L1148.8 295 L1158 293.8 L1158.8 299 L1163.5 302.6 L1170.3 301.9 L1173.6 303 L1174.3 308.6 L1178.4 312.6 L1180.4 314.7 L1174.3 316.7 L1163.5 313.3 L1159.5 317 L1152.8 313.3 L1146 312.6 L1138 314.7 L1130 318 L1124.5 320.7 L1119 316.7 L1114.4 317.4 L1111 323.4 L1107 331.5 L1103 338.2 L1101 338.2 L1096 346 L1092.5 353 L1096 350 L1102 343 L1108 335 L1115 329 L1112 337 L1106 350 L1104 360 L1100 370 L1097.5 382.5 L1097.5 395 L1099 410 L1101.5 421 L1107 427.5 L1113 428 L1120 425.5 L1126 420 L1129.5 414 L1131.5 405 L1132 397 L1130.5 386 L1126 376 L1125 366 L1128.6 360 L1130 354.4 L1132.6 347.6 L1138 342.2 L1144.7 336.9 L1151.4 332.8 L1156.8 330 L1155.5 326 L1159.5 319.4 L1169 322 L1178.4 327.4 L1186.4 332.8 L1191.8 336.9 L1193.8 340.2 L1190.5 340.9 L1191.8 347.6 L1190 360 L1185 366 L1181 369 L1180 375 L1185 377.5 L1190 370 L1197.5 365 L1205 367.5 L1209 377.5 L1210 392.5 L1207.5 402.5 L1204 404 L1201 410 L1196 415 L1194 422.5 L1190 427.5 L1200 432.5 L1210 435 L1222.5 432.5 L1235 425 L1250 420 L1267.5 414 L1282.5 402.5 L1286 395 L1282.5 387.5 L1292.5 384 L1310 386 L1327.5 384 L1337.5 379 L1342.5 370 L1340 364 L1350 355 L1360 346 L1370 341M1440 340.5 L1442.5 334 L1451 332.5 L1460 325 L1466 315 L1467.5 306 L1474 294 L1482.5 284 L1490 276 L1494 280 L1500 280 L1509 277.5 L1520 286 L1521 322.5 L1526 326 L1529 336 L1535 341 L1535 347.5 L1527.5 350 L1520 351 L1512.5 356 L1505 355 L1496 357.5 L1489 365 L1480 370 L1474 374 L1465 380 L1459 387.5 L1456 395 L1457.5 402.5 L1451 410.2 L1454 413.2 L1459 415.2 L1461 420.3 L1462 424.8 L1470.2 424.3 L1474.2 425.3 L1474.2 421.3 L1471.2 417.7 L1467 417.2 L1467.5 419.5 L1471 421 L1472 423.5 L1475.2 425.3 L1474.2 429.4 L1470 430.4 L1465 429.4 L1461 430.4 L1457 432.4 L1454 434.4 L1450 433 L1447 427.4 L1442 430.4 L1435 434.4 L1422.8 437 L1410.7 438 L1396.6 442.5 L1391.5 445 L1386 452 L1383 458 L1389.5 460.7 L1388.4 470.8 L1384.4 481 L1376 492.4 L1371 500.6 L1367.7 499.5 L1363 494.7 L1357 487.7 L1353.6 480.6 L1357 490 L1362 500 L1366.5 513.6 L1365 523 L1358 532.4 L1352.4 541.8 L1347.7 549 L1346 557 L1347.7 563 L1351 572.4 L1356 582 L1357 589 L1351 596 L1346.5 598.3 L1340.6 605.4 L1334.7 610 L1323 613.6 L1313.5 620 L1308 626 L1302.5 631 L1292.5 633 L1282.5 645 L1280 652.5 L1267.5 660 L1255 670 L1247.5 677.5 L1244 680 L1240 690 L1235 700 L1230 710 L1230 717 L1233.6 728.5 L1237 742 L1241.5 755.7 L1246 769 L1250.6 783 L1255 796.4 L1258.5 807.7 L1260.8 819 L1261 830.4 L1260.3 844 L1258.5 853 L1254 859.8 L1247 862 L1240.4 863.2 L1235.8 858.7 L1234.7 851.9 L1230 846 L1225.7 842.8 L1223.4 835 L1220 828 L1215.5 821.3 L1211 813.4 L1207.5 803 L1204 796.4 L1201.9 789.6 L1205 780.6 L1206.4 769 L1203 760 L1197.4 755.7 L1190.6 749 L1185 741 L1179 734 L1173 733.7 L1169.7 738.2 L1161.8 740.5 L1155 742.7 L1149.5 743.8 L1147.3 737 L1143.9 731.5 L1139.4 727 L1132.7 723.6 L1126 722.5 L1119 723.6 L1111.4 721.4 L1105.8 723.6 L1100 728 L1096.2 727 L1095.7 718 L1093.4 714 L1091 715.8 L1090 728 L1084.5 727 L1081 724.8 L1072 724.2 L1064.3 727 L1061 732.6 L1061 734.9 L1066.5 732 L1067.6 734.9 L1063 740.5 L1059.8 746 L1063 751.7 L1067.6 755 L1072 758.4 L1067.6 762.9 L1063 763.4 L1064.3 758.4 L1058.7 754 L1055.3 750.5 L1050.8 749.4 L1049.7 756 L1046.3 759.5 L1044 756 L1038.5 755 L1034 760.6 L1029.5 757.3 L1026 751.7 L1019.4 747 L1017 742.7 L1010.5 740.5 L1004.9 742.7 L1002.6 747 L993.6 746 L983.5 741.6 L972 741.5 L965 743 L957.3 746 L949.6 749 L944 753.7 L936 762.4 L926.5 769 L915 774 L907 779.8 L899.5 786.5 L896.6 793 L895.7 801 L893.7 810.6 L894.7 820 L897.6 831.8 L900.5 841.4 L895.7 843.4 L888 840.5 L878.3 838.6 L870.6 833.7 L861 830 L856 820 L852.3 812.5 L851.3 803 L847.5 799 L839.8 789.4 L832 776 L826.3 762.4 L818.6 751.8 L810.8 743 L801 742 L791.6 740.2 L787.5 742.5 L782.5 747.5 L779 757.5 L774 762.5 L765 759 L755 752.5 L747.5 746 L744 740 L740 730 L735 720 L727.5 712.5 L717.5 702.5 L709 695 L702.5 689M480 669 L477.5 662.5 L475 655 L467.5 645 L460 636 L454 635 L447.5 630 L437.5 626 L430 620 L415 619 L406 615 L405 600 L400 595 L396 587.5 L385 575 L381 565 L376 555 L371 540 L369 529 L372 522 L366 520 L360 525 L356 520 L347.5 505 L341 495 L337.5 480 L329 467.5 L327.5 455 L331 442.5 L334 430 L330 420 L327.5 417.5 L327.5 405 L324 397.5 L326 385 L331 370 L334 355 L335 340 L337.5 327.5 L336 320 L337.5 307.5 L334 306 L335 299 L332 296 L335 292.5 L332.5 286 L329 274 L322.5 262.5 L320 251 L330 253 L342 255.5 L354 257 L357 262 L355 270 L357 280 L360 287 L364 286 L366 278 L369 272 L370 262 L368 252 L363 246 L361 241 L361 235.4M1383.4 458.7 L1392.5 452.6 L1400.6 449.6 L1410.7 446.5 L1420.8 443.5 L1425.8 441.5 L1434 444.5 L1431 446.5 L1420.8 450.6 L1410.7 454.6 L1404.6 456.7 L1396.6 457.7 L1388.5 460.2ZM1454.5 435.5 L1463 434.5 L1463.5 438 L1456 439.5ZM1467.5 437 L1474.5 436 L1474.5 440.5 L1468.5 441Z" stroke-width="4.1"/></g>
<path d="M361 235.4 L941 235.4M1370 341 L1401 341 L1440 340.5M702.5 689 L667.5 689.5 L667.5 701 L650 701 L606 701 L529 670 L530 664 L480 669"/>
<path d="M337.5 307.5 L347.5 308 L356 312.5 L360 321 L369 326 L382.5 321 L395 324 L410 320 L427.5 316 L445 314.5 L465 314 L482 313.5M482 235.4 L482 305 L485 314 L494 321 L491 330 L485 342.5 L479 351 L477.5 357.5 L484 362.5 L482.5 370 L482 372.5 L482 419.5M503 235.4 L503 264 L509 269 L509 276 L517.5 281 L527.5 292.5 L534 296 L539 297.5 L537.5 307.5 L536 316 L533 320 L534 326 L537.5 329 L545 322.5 L550 325 L554 335 L557.5 342.5 L562.5 345 L567.5 355 L571 357.5 L579 352.5 L597.5 351 L600 347.5 L604 350 L607.5 355M330 419.5 L607.5 419.5M607.5 341 L755 341 L755 446 L607.5 446 L607.5 341M755 235.4 L755 341M755 316 L911 316M755 393 L872.5 393 L881 399.5 L885 397.5 L895 397.5 L906 401 L912.5 405M900 235.4 L901 247.5 L906 265 L909 285 L910 300 L912.5 312.5 L911 316 L906 322.5 L910 327.5 L915.5 331 L915.5 380M915.5 380 L1024 379.5M915.5 380 L911 382.5 L914 390 L912.5 400 L912.5 405 L917.5 412.5 L921 422.5 L924 427.5 L929 440 L929 452.5 L932.5 461 L937.5 469 L942.5 474 L949 476 L947.5 480 L944 484 L947.5 489 L951 494 L955 495M955 495 L955 565 L957 637.5M797 472.5 L938.5 472.5M755 446 L797 446 L797 472.5M797 472.5 L797 552M545 552 L955 552M930 456.5 L1020 456.5M955 565 L1050 565 L1047.5 572.5 L1044 576.5 L1055 576.5M419.5 419.5 L419.5 498 L531 602M545 419.5 L545 575 L540 580 L531 576 L530 585 L531 602 L535 612.5 L540 620 L543.5 624 L537.5 630 L535 637.5 L531 647.5 L532.5 655 L535 660 L530 664 L529 670M650 446 L650 701M607.5 446 L650 446M702.5 689 L701 683.5 L777 683.5M777 683.5 L777 552M777 565 L841 565 L841 616 L846 620 L855 621 L861 626 L872.5 627.5 L880 631 L887.5 635 L895 634 L901 637.5 L907.5 634 L917.5 637 L927.5 634 L942.5 632.5 L950 636 L957 640 L965 641 L965 685 L969 690 L973.5 696.7 L976.8 706.8 L975.7 715.8 L972.3 723.6 L973.5 731.5 L971.2 739.3 L967 742.7M965 656 L1027.5 655.5M1010 357.5 L1017.5 362.5 L1024 370 L1027.5 382.5 L1026 392.5 L1032.5 402.5 L1039 406 L1045 412.5 L1049 420 L1045 430 L1035 435 L1029 440 L1027.5 442.5 L1030 447.5 L1024 456 L1020 466 L1022.5 477.5 L1030 487.5 L1037.5 495 L1039 500 L1047.5 502.5 L1047.5 512.5 L1044 517.5 L1047.5 522.5 L1055 527.5 L1060 531.6 L1063.4 538.3 L1064.5 546 L1069.5 551.8 L1070 560 L1060 564 L1057.5 575 L1052.5 590 L1047.5 602.5 L1042.5 604 L1037.5 615 L1032.5 625 L1027.5 635 L1026 647.5 L1027.5 655.5 L1029 665 L1027.5 677.5 L1022.8 690 L1018.3 696.7 L1016 704.6 L1017.2 710.2 L1057.6 710.2 L1055.3 715.8 L1057.6 722.5 L1060.4 728 L1061 732.6M1002.8 296.5 L1002 310 L996.7 313.3 L992.5 319 L990 325 L994 330 L992.5 345 L997.5 351 L1010 357.5M1043.8 298.5 L1047.8 305 L1060 308.6 L1070.7 312 L1081.5 314 L1092.2 316.7 L1096.3 322 L1097.6 328.8 L1100.3 334.2 L1101 338.2M1039 406 L1098 406M1103 427.5 L1103 480 L1103 490 L1101 494.6 L1103 499 L1104.9 505 L1101.5 509 L1097 514.8 L1093 519 L1093.6 527M1069.5 551.8 L1072.3 546 L1078 545.6 L1083 549.5 L1083.5 542.8 L1088 539.4 L1092.5 538.3 L1090.3 532.7 L1093.6 527 L1099 528 L1104.9 526.5 L1111.6 531.6 L1117 526.5 L1122.8 529 L1125.6 522 L1129.5 520 L1134 525 L1138.5 518 L1145 512.5 L1147 507 L1153 506 L1159.8 504 L1160.4 496.8 L1167.6 496 L1173 502.4 L1180 505 L1184.5 508.6 L1191 509 L1200 505.8 L1204.6 511.4 L1208 514.8 L1213.6 512.5 L1215.9 505.8 L1218 499 L1222.6 500 L1226 492 L1231.6 489 L1238 486.7 L1244 481 L1246 470 L1247.5 457.5 L1250.5 455M1112.5 426 L1160.4 425.5 L1190 427.5M1160.4 425.5 L1160.4 497M1250.5 420 L1250.5 479M1250.5 479 L1353 479.4M1267.5 414 L1267.5 419.4 L1360.2 419.2 L1365.2 423.3 L1366.2 430.4 L1371.3 434.4 L1364.2 446.5 L1362.7 455.6 L1366.2 460.6 L1373.3 467.7 L1365.2 473.8 L1355 478.5M1371.3 434.4 L1391.5 445M1353 479.4 L1353 513.6 L1366.5 513.6M1272 479 L1272 494 L1279 490 L1285 485 L1292.5 482.5 L1297.5 486 L1302.5 484 L1307.5 487.5 L1310 492.5 L1320 497.5 L1326 502.5 L1325 503 L1319.4 511.2 L1320.6 516 L1330 520.6M1326 502.5 L1320 512.5 L1312.5 507.5 L1307.5 502.5 L1302.5 495 L1295 492.5 L1292.5 497.5 L1285 502.5 L1280 508 L1274 512.5 L1268.6 510 L1265 517 L1260.7 524.9 L1255 531.6 L1257.4 535 L1251.7 539.4 L1244 541 L1236 545 L1232.7 542.8 L1227 546.7 L1221.5 540.5M1208 514.8 L1207 521.5 L1210 528 L1214.7 533.8 L1219 538 L1221.5 540.5 L1214.7 542.8 L1205.8 547.3 L1200 553 L1194.6 557.4 L1185.6 561.3 L1183.3 562.8M1060 563.8 L1092 563.8 L1092 560.3 L1120 561 L1172 563 L1226 563.2 L1347.5 563.5M1226 563.2 L1225 568.6 L1219 573 L1211 576.4 L1202.5 581 L1192.5 586 L1182.5 592.5 L1174 599 L1172 604.5M1045 604 L1194 604M1090 604 L1085 660 L1083 725M1144 604.5 L1155 677.5 L1152.5 687.5 L1156 700 L1155.5 709.8M1105.8 723.6 L1105.8 719 L1102.4 714.7 L1100.5 709.8 L1155.5 709.8 L1157.4 717 L1216 724 L1217.5 726.5 L1220 725 L1221 715 L1230 717M1194 604 L1191 610 L1200 617.5 L1207.5 632.5 L1215 642.5 L1225 655 L1235 665 L1240 677.5 L1244 680M1191 610 L1200 604.5 L1210 600 L1237.5 599.5 L1242.5 604 L1247.5 609 L1270 609 L1292.5 633M1401 341 L1402.5 352.5 L1401 365 L1400 375 L1402.5 380 L1404.6 399.6 L1400.6 417.3 L1397.6 430.4 L1396.6 442.5M1440 340.5 L1439 350 L1432.5 357.5 L1429 370 L1424 382.5 L1420 392.5 L1419.5 400.5M1451 332.5 L1451 352.5 L1452.5 370 L1454 387.5 L1456 395M1404.6 399.6 L1445 402.6 L1451 396.5 L1456 395M1400.6 417.3 L1444 418.8 L1446 423.3 L1447 427.4M1435.5 418.6 L1435.5 434.4"/>
</g>
<g fill="#000" stroke="#000" stroke-width="2.2" stroke-linejoin="round"><path d="M352 244 L356 242 L362 243.5 L364 247 L361 250 L365 252 L370 256 L371 264 L370 272 L371 278 L368 286 L362 288.5 L356 287 L353 281 L355 274 L353 268 L356 262 L361 258 L358 253 L353 250ZM365 520.5 L371 519 L375 522 L374 528 L378 536 L376 541 L371 538 L367 531 L366 526ZM945 744 L950 741 L952 745 L948 751 L944 750ZM907 776 L914 771 L921 768 L923 771 L916 775 L909 780ZM892 791 L899 789 L900 794 L894 797ZM886 803 L892 802 L893 808 L888 810ZM1202 786 L1208 785 L1211 790 L1209 797 L1204 797 L1201 792ZM1212 815 L1218 815 L1219 821 L1215 824 L1211 820ZM1236 858 L1243 858 L1243 864 L1237 864ZM1143 337 L1147 335 L1149 341 L1146 346 L1143 344ZM1108 328 L1114 324 L1121 321 L1122 324 L1115 329 L1110 333ZM1057 730 L1062 727 L1066 731 L1063 737 L1058 737Z"/></g><g fill="none" stroke="#000" stroke-linecap="round" stroke-linejoin="round"><path d="M1340 480 L1335 488 L1333 495 L1333.5 505 L1335 513 L1338 520 L1340.5 527 L1341.5 538 L1340.5 550" stroke-width="4.6"/><path d="M1346 484 L1343 492 L1342 502 L1343 512 L1341.5 522" stroke-width="4.2"/><path d="M1318.6 514 L1326 515 L1334 521.5 L1340.5 527" stroke-width="4.6"/><path d="M1326 525 L1340.5 536" stroke-width="4.6"/><path d="M1325 536.7 L1340.5 545" stroke-width="4.6"/><path d="M1325 545 L1340 551" stroke-width="4.6"/><path d="M1347.7 549 L1345 541 L1343.5 532 L1344.5 524" stroke-width="3.6"/><path d="M1330 569 L1333 578 L1342 577 L1347 581" stroke-width="6"/><path d="M1334 570 L1340 572" stroke-width="5"/><path d="M1349 588 L1340 592 L1329 592 L1324 600 L1335 606 L1339 610" stroke-width="6.5"/><path d="M1322 613 L1330 607" stroke-width="6"/><path d="M1312 620 L1318 614" stroke-width="4.5"/><path d="M1347 566 L1351 578 L1354 588" stroke-width="4"/><path d="M1383 452 L1389 455 L1386 460" stroke-width="6"/><path d="M1392 448.5 L1400 446" stroke-width="3.2"/><path d="M1443 429 L1448 431 L1451 428" stroke-width="5"/><path d="M333 288 L337 290" stroke-width="4"/><path d="M334 297 L338 300" stroke-width="4"/><path d="M1353 481 L1356 488" stroke-width="4"/><path d="M1041.9 731.5 L1046.3 725.9 L1053 727 L1057.6 732.6 L1053 734.9 L1046.3 734.9 L1041.9 731.5" stroke-width="4"/><path d="M1111.4 721.4 L1119 723.6 L1126 722.5 L1132.7 723.6 L1139.4 727" stroke-width="5"/><path d="M1064.3 727 L1072 724.2 L1081 724.8" stroke-width="5"/><path d="M1092 716 L1094.5 716" stroke-width="5"/><path d="M1207.5 402.5 L1204 404" stroke-width="4.5"/><path d="M1157 316 L1161 320" stroke-width="5"/></g>
</svg>
<div class="lt">Adult relative<br>pop. size<br>(peak)</div>
<div class="sw" style="top:407.10px;background:#4d4d4d"></div>
<div class="lb" style="top:407.10px;letter-spacing:0.85px">excl.-severe</div>
<div class="sw" style="top:432.54px;background:#b3b3b3"></div>
<div class="lb" style="top:432.54px;letter-spacing:1.22px">excl.-moderate</div>
<div class="sw" style="top:457.98px;background:#e5e5e5"></div>
<div class="lb" style="top:457.98px;letter-spacing:1.15px">other stages</div>
<div class="sw" style="top:483.42px;background:#0a32dc"></div>
<div class="lb" style="top:483.42px;letter-spacing:1.15px">0 gens.</div>
<div class="sw" style="top:508.86px;background:#a82416"></div>
<div class="lb" style="top:508.86px;letter-spacing:1.15px">1 gens.</div>
<div class="sw" style="top:534.30px;background:#dcc400"></div>
<div class="lb" style="top:534.30px;letter-spacing:1.15px">2 gens.</div>
<div class="sw" style="top:559.74px;background:#248428"></div>
<div class="lb" style="top:559.74px;letter-spacing:1.15px">3 gens.</div>
<div class="sw" style="top:585.18px;background:#a800a8"></div>
<div class="lb" style="top:585.18px;letter-spacing:1.15px">4 gens.</div>
<div class="sw" style="top:610.62px;background:#dc7814"></div>
<div class="lb" style="top:610.62px;letter-spacing:1.15px">5 gens.</div>
<div class="sw" style="top:636.06px;background:#00a8a8"></div>
<div class="lb" style="top:636.06px;letter-spacing:1.15px">6 gens.</div>
<div class="sw" style="top:661.50px;background:#5ca80c"></div>
<div class="lb" style="top:661.50px;letter-spacing:1.15px">7 gens.</div>
<div class="sw" style="top:686.94px;background:#843cdc"></div>
<div class="lb" style="top:686.94px;letter-spacing:1.15px">8 gens.</div>
<div class="sw" style="top:712.38px;background:#a89020"></div>
<div class="lb" style="top:712.38px;letter-spacing:1.15px">9 gens.</div>
<div class="sw" style="top:737.82px;background:#70acf0"></div>
<div class="lb" style="top:737.82px;letter-spacing:1.20px">10 gens.</div>
<div class="sw" style="top:763.26px;background:#f090ac"></div>
<div class="lb" style="top:763.26px;letter-spacing:1.35px">11 gens.</div>
</body></html>
